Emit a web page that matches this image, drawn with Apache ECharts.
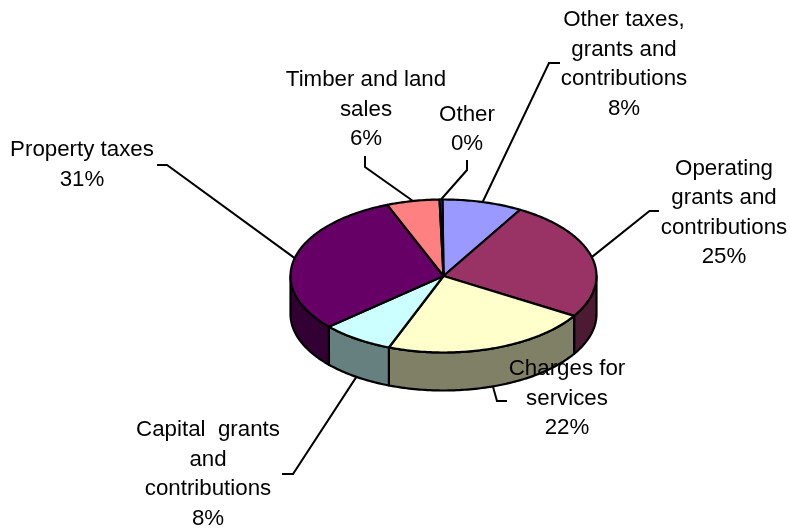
<!DOCTYPE html>
<html>
<head>
<meta charset="utf-8">
<style>html,body{margin:0;padding:0;background:#fff}#chart{width:790px;height:531px}</style>
<script src="https://cdn.jsdelivr.net/npm/echarts@6/dist/echarts.min.js"></script>
</head>
<body>
<div id="chart"></div>
<script>
// Data (clockwise from 12 o'clock), share of revenue
const categories = [
  ['Other taxes,', 'grants and', 'contributions'],
  ['Operating', 'grants and', 'contributions'],
  ['Charges for', 'services'],
  ['Capital  grants', 'and', 'contributions'],
  ['Property taxes'],
  ['Timber and land', 'sales'],
  ['Other']
];
const values = [8.5, 25.5, 22.2, 7.7, 30.7, 5.6, 0.3];
const topColors = ['#9999FF', '#993366', '#FFFFCC', '#CCFFFF', '#660066', '#FF8080', '#0066CC'];
const sideColors = ['#4D4D80', '#4D1A33', '#808066', '#668080', '#330033', '#804040', '#003366'];

// Layout
const pie = { cx: 443.5, cy: 276, rx: 153, ry: 76.5, depth: 38, startAngle: -0.4 };
const labelCenters = [[624, 64.5], [724, 213], [567, 398.5], [208, 474.5], [82, 165], [366, 109.5], [467, 129.5]];
const leaderElbows = [
  [[549, 63], [560, 63]],
  [[649.5, 211], [659, 211]],
  [[497, 401], [507, 401]],
  [[293, 474], [282, 474]],
  [[167, 165], [157, 165]],
  [[365, 167], [365, 156]],
  [[467, 170], [467, 160]]
];
const FONT_SIZE = 22.3, LINE_HEIGHT = 29.5;

const total = values.reduce((a, b) => a + b, 0);
const angles = [];
values.reduce((acc, v) => { const next = acc + v / total * 360; angles.push([acc, next]); return next; }, pie.startAngle);
const rad = d => d * Math.PI / 180;
const pt = (deg, dy) => [pie.cx + pie.rx * Math.sin(rad(deg)), pie.cy - pie.ry * Math.cos(rad(deg)) + (dy || 0)];
const arc = (a, b, dy) => {
  const out = [], n = Math.max(2, Math.ceil(Math.abs(b - a)));
  for (let i = 0; i <= n; i++) out.push(pt(a + (b - a) * i / n, dy));
  return out;
};
const lineStyleBlack = w => ({ stroke: '#000', lineWidth: w, lineJoin: 'round' });

function renderSide(params) {
  const i = params.dataIndex;
  const a = Math.max(angles[i][0], 90), b = Math.min(angles[i][1], 270);
  if (b <= a) return { type: 'group', children: [] };
  return {
    type: 'polygon', silent: true,
    shape: { points: arc(a, b, 0).concat(arc(b, a, pie.depth)) },
    style: Object.assign({ fill: sideColors[i] }, lineStyleBlack(2.2))
  };
}
function renderTop(params) {
  const i = params.dataIndex;
  return {
    type: 'polygon', silent: true,
    shape: { points: [[pie.cx, pie.cy]].concat(arc(angles[i][0], angles[i][1], 0)) },
    style: Object.assign({ fill: topColors[i] }, lineStyleBlack(2.2))
  };
}
function renderLabel(params) {
  const i = params.dataIndex;
  const mid = (angles[i][0] + angles[i][1]) / 2;
  const onFront = Math.cos(rad(mid)) < -0.3;
  const start = pt(mid, onFront ? pie.depth : 0);
  const pct = Math.round(values[i] / total * 100) + '%';
  return {
    type: 'group', children: [
      {
        type: 'polyline', silent: true, z2: 1,
        shape: { points: [start].concat(leaderElbows[i]) },
        style: { fill: 'none', stroke: '#000', lineWidth: 2 }
      },
      {
        type: 'text', silent: true, z2: 2,
        style: {
          text: categories[i].concat(pct).join('\n'),
          x: labelCenters[i][0], y: labelCenters[i][1],
          align: 'center', verticalAlign: 'middle',
          font: FONT_SIZE + 'px "Liberation Sans", Arial, sans-serif',
          lineHeight: LINE_HEIGHT, fill: '#000'
        }
      }
    ]
  };
}

const chart = echarts.init(document.getElementById('chart'), null, { renderer: 'canvas' });
chart.setOption({
  backgroundColor: '#fff',
  animation: false,
  series: [
    { type: 'custom', coordinateSystem: 'none', data: values, renderItem: renderSide, z: 1 },
    { type: 'custom', coordinateSystem: 'none', data: values, renderItem: renderTop, z: 2 },
    { type: 'custom', coordinateSystem: 'none', data: values, renderItem: renderLabel, z: 3 }
  ]
});
</script>
</body>
</html>
